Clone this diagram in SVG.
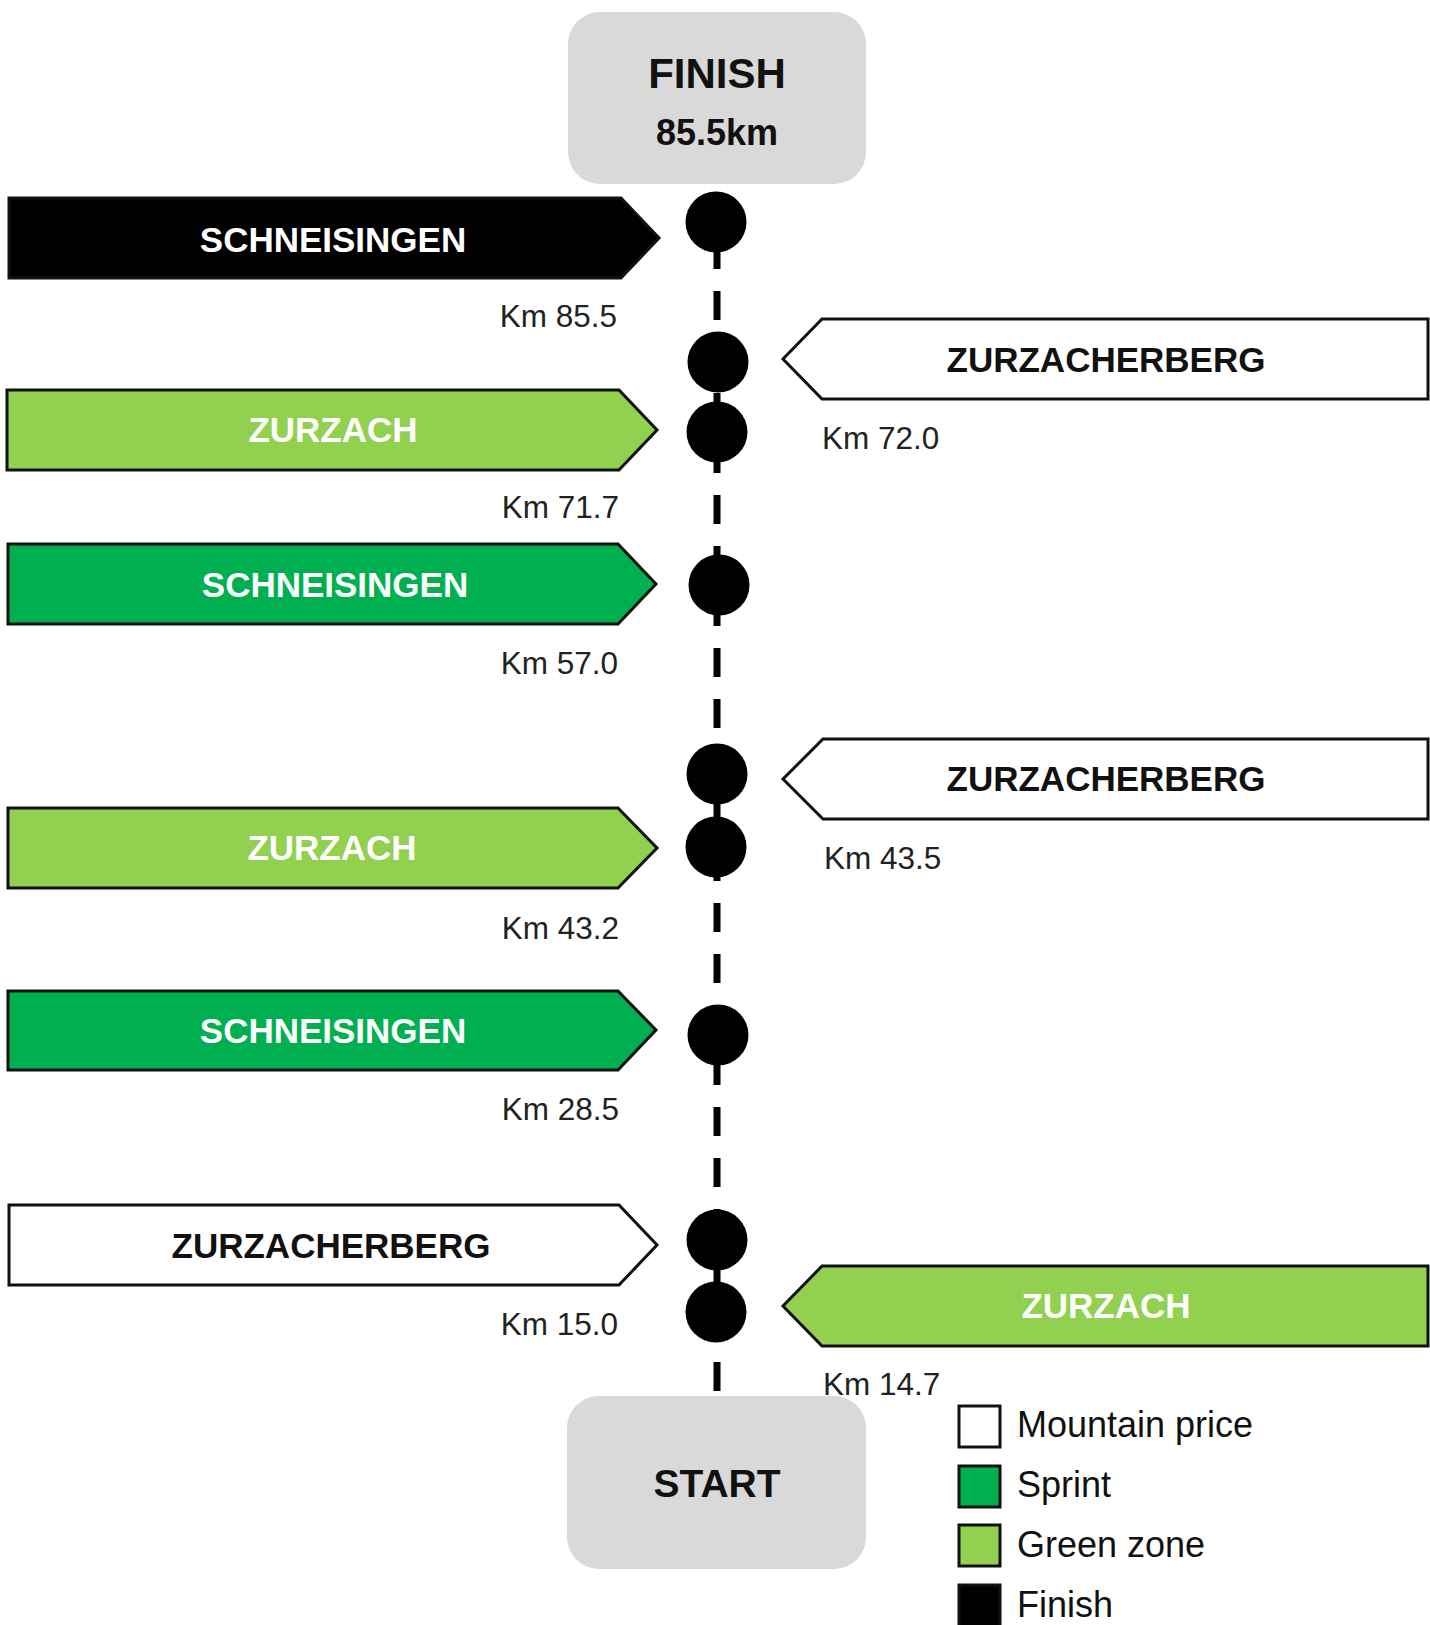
<svg xmlns="http://www.w3.org/2000/svg" width="1430" height="1625" viewBox="0 0 1430 1625">
<style>
.box{fill:#D9D9D9}
.bt{font-family:"Liberation Sans",Arial,sans-serif;font-weight:bold;text-anchor:middle;fill:#111}
.ban{stroke:#111;stroke-width:3;stroke-linejoin:miter}
.blk{fill:#000}
.spr{fill:#00B050}
.grn{fill:#92D050}
.wht{fill:#FFFFFF}
.lt{font-family:"Liberation Sans",Arial,sans-serif;font-weight:bold;font-size:35px;text-anchor:middle}
.lw{fill:#FFFFFF}
.lb{fill:#111}
.km{font-family:"Liberation Sans",Arial,sans-serif;font-size:31.5px;fill:#222}
.kl{text-anchor:end}
.dot{fill:#000}
.leg{font-family:"Liberation Sans",Arial,sans-serif;font-size:36px;fill:#111}
.sq{stroke:#111;stroke-width:3}
</style>

<g id="connectors">
<line x1="717" y1="240" x2="717" y2="1391" stroke="#000" stroke-width="7" stroke-dasharray="29 22"/>
</g>

<g id="finish">
<rect class="box" x="568" y="12" width="298" height="172" rx="32"/>
<text class="bt" x="717" y="88" font-size="42">FINISH</text>
<text class="bt" x="717" y="145" font-size="36">85.5km</text>
</g>

<g id="start">
<rect class="box" x="567" y="1396" width="299" height="173" rx="32"/>
<text class="bt" x="717" y="1497" font-size="39">START</text>
</g>

<g id="dots">
<circle class="dot" cx="716" cy="222" r="30.5"/>
<circle class="dot" cx="718" cy="362" r="30.5"/>
<circle class="dot" cx="717" cy="432" r="30.5"/>
<circle class="dot" cx="719" cy="585" r="30.5"/>
<circle class="dot" cx="717" cy="774" r="30.5"/>
<circle class="dot" cx="716" cy="847" r="30.5"/>
<circle class="dot" cx="718" cy="1035" r="30.5"/>
<circle class="dot" cx="717" cy="1240" r="30.5"/>
<circle class="dot" cx="716" cy="1312" r="30.5"/>
</g>

<g id="b1">
<path class="ban blk" d="M9,198 H621 L659,238 L621,278 H9 Z"/>
<text class="lt lw" x="333" y="252">SCHNEISINGEN</text>
<text class="km kl" x="617" y="327">Km 85.5</text>
</g>

<g id="b2">
<path class="ban wht" d="M1428,319 H822 L783,359 L822,399 H1428 Z"/>
<text class="lt lb" x="1106" y="372">ZURZACHERBERG</text>
<text class="km" x="822" y="449">Km 72.0</text>
</g>

<g id="b3">
<path class="ban grn" d="M7,390 H619 L657,430 L619,470 H7 Z"/>
<text class="lt lw" x="333" y="442">ZURZACH</text>
<text class="km kl" x="619" y="518">Km 71.7</text>
</g>

<g id="b4">
<path class="ban spr" d="M8,544 H618 L656,584 L618,624 H8 Z"/>
<text class="lt lw" x="335" y="597">SCHNEISINGEN</text>
<text class="km kl" x="618" y="674">Km 57.0</text>
</g>

<g id="b5">
<path class="ban wht" d="M1428,739 H823 L783,779 L823,819 H1428 Z"/>
<text class="lt lb" x="1106" y="791">ZURZACHERBERG</text>
<text class="km" x="824" y="869">Km 43.5</text>
</g>

<g id="b6">
<path class="ban grn" d="M8,808 H618 L657,848 L618,888 H8 Z"/>
<text class="lt lw" x="332" y="860">ZURZACH</text>
<text class="km kl" x="619" y="939">Km 43.2</text>
</g>

<g id="b7">
<path class="ban spr" d="M8,991 H618 L656,1030 L618,1070 H8 Z"/>
<text class="lt lw" x="333" y="1043">SCHNEISINGEN</text>
<text class="km kl" x="619" y="1120">Km 28.5</text>
</g>

<g id="b8">
<path class="ban wht" d="M9,1205 H619 L657,1245 L619,1285 H9 Z"/>
<text class="lt lb" x="331" y="1258">ZURZACHERBERG</text>
<text class="km kl" x="618" y="1335">Km 15.0</text>
</g>

<g id="b9">
<path class="ban grn" d="M1428,1266 H822 L783,1306 L822,1346 H1428 Z"/>
<text class="lt lw" x="1106" y="1318">ZURZACH</text>
<text class="km" x="823" y="1395">Km 14.7</text>
</g>

<g id="legend">
<rect class="sq wht" x="959" y="1406" width="41" height="41"/>
<text class="leg" x="1017" y="1437">Mountain price</text>
<rect class="sq spr" x="959" y="1466" width="41" height="41"/>
<text class="leg" x="1017" y="1497">Sprint</text>
<rect class="sq grn" x="959" y="1525" width="41" height="41"/>
<text class="leg" x="1017" y="1557">Green zone</text>
<rect class="sq blk" x="959" y="1585" width="41" height="45"/>
<text class="leg" x="1017" y="1617">Finish</text>
</g>
</svg>
